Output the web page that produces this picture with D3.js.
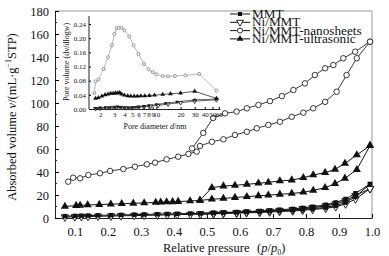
<!DOCTYPE html>
<html>
<head>
<script src="https://d3js.org/d3.v7.min.js"></script>
<style>
body { margin: 0; background: #fff; }
svg { font-family: "Liberation Serif", "Times New Roman", serif; }
</style>
</head>
<body>
<div id="chart"></div>
<script>
// main plot: relative pressure vs absorbed volume
var seriesNames = ["MMT", "Ni/MMT", "Ni/MMT-nanosheets", "Ni/MMT-ultrasonic"];

var mmtAdsP = [0.07,0.10,0.12,0.14,0.17,0.21,0.24,0.28,0.31,0.35,0.38,0.41,0.45,0.48,0.52,0.55,0.59,0.62,0.66,0.69,0.72,0.76,0.79,0.82,0.86,0.89,0.92,0.95,0.994];
var mmtAdsV = [1.6,1.8,2.0,2.1,2.3,2.5,2.7,2.9,3.1,3.3,3.5,3.7,3.9,4.1,4.4,4.7,5.0,5.3,5.6,6.0,6.4,6.9,7.5,8.2,9.2,10.8,13.5,18.5,29.5];
var mmtDesP = [0.994,0.95,0.92,0.89,0.86,0.82,0.79,0.76,0.72,0.69,0.66,0.62,0.59,0.55,0.52,0.48];
var mmtDesV = [29.5,21.5,16.5,13.5,11.5,9.8,8.8,7.9,7.2,6.6,6.1,5.6,5.2,4.8,4.5,4.1];

var niAdsP = [0.07,0.10,0.12,0.14,0.17,0.21,0.24,0.28,0.31,0.35,0.38,0.41,0.45,0.48,0.52,0.55,0.59,0.62,0.66,0.69,0.72,0.76,0.79,0.82,0.86,0.89,0.92,0.95,0.994];
var niAdsV = [0.8,1.0,1.2,1.3,1.5,1.7,1.9,2.1,2.3,2.5,2.7,2.9,3.1,3.3,3.6,3.9,4.2,4.5,4.8,5.2,5.6,6.1,6.7,7.4,8.4,9.8,12.2,16.5,25.5];
var niDesP = [0.994,0.95,0.92,0.89,0.86,0.82,0.79,0.76,0.72,0.69,0.66,0.62,0.59,0.55,0.52,0.48];
var niDesV = [25.5,19.5,15.0,12.3,10.5,9.0,8.0,7.2,6.5,6.0,5.5,5.0,4.6,4.2,3.9,3.4];

var nanoAdsP = [0.08,0.095,0.116,0.141,0.176,0.207,0.247,0.282,0.318,0.343,0.378,0.413,0.444,0.469,0.479,0.515,0.55,0.585,0.621,0.651,0.686,0.721,0.757,0.792,0.822,0.858,0.893,0.923,0.954,0.994];
var nanoAdsV = [31.6,35,34.5,37.4,38.9,40.9,42.6,44.6,46.7,48.1,51,53.3,55.7,57.7,62.6,66.3,68.4,72.2,75,78,80.9,83.7,88,91.6,95.4,101,109.8,124.3,138.9,153.3];
var nanoDesP = [0.994,0.949,0.913,0.883,0.858,0.827,0.797,0.762,0.727,0.691,0.656,0.621,0.59,0.555,0.519,0.489,0.455];
var nanoDesV = [153.3,144.6,138.9,133,130.2,124.3,117.1,111.3,106,101.7,98.3,95.4,92.5,91,87,74,60.5];

var ultAdsP = [0.07,0.104,0.116,0.139,0.174,0.209,0.242,0.277,0.31,0.345,0.36,0.378,0.396,0.413,0.449,0.479,0.515,0.55,0.585,0.621,0.656,0.686,0.721,0.757,0.792,0.822,0.858,0.888,0.918,0.954,0.994];
var ultAdsV = [10,10.8,11,11.3,11.7,12,12.4,12.8,13.1,13.5,13.7,13.9,14.1,14.3,14.8,15.3,16.3,17,17.8,18.6,19.3,19.9,20.6,21.3,22.4,24,26.3,29.8,34.5,42,63];
var ultDesP = [0.994,0.954,0.918,0.888,0.858,0.822,0.792,0.757,0.721,0.686,0.656,0.621,0.585,0.55,0.515,0.479];
var ultDesV = [63,54.8,47.5,42.3,39.4,37.4,35,33,32.2,31,30.2,29.3,28.4,27.8,26.4,15.3];

var xTicks = [0.1,0.2,0.3,0.4,0.5,0.6,0.7,0.8,0.9,1.0];
var yTicks = [0,20,40,60,80,100,120,140,160,180];

// inset: pore size distribution
var insetXTicks = [2,3,4,5,6,7,8,9,10,20,30,40,50,60];
var insetYTicks = [0,0.04,0.08,0.12,0.16,0.20,0.24];

var inMmtD = [1.75,2.0,2.3,2.6,3.0,3.3,3.6,4.0,4.5,5.0,5.5,6.0,7.0,8.0,10,13,18,30,56];
var inMmtV = [0.002,0.003,0.004,0.004,0.005,0.006,0.005,0.004,0.004,0.004,0.005,0.006,0.008,0.010,0.013,0.016,0.020,0.026,0.028];
var inNiD = [1.75,2.0,2.4,2.8,3.2,3.6,4.2,5.0,6.0,7.0,8.5,10.5,14,20,30,56];
var inNiV = [0.001,0.002,0.003,0.004,0.005,0.004,0.003,0.003,0.005,0.006,0.008,0.010,0.014,0.018,0.022,0.026];
var inNanoD = [1.69,1.75,1.9,2.2,2.5,2.8,3.0,3.2,3.4,3.7,4.0,4.6,5.2,6.0,7.0,8.0,9.0,10,12,14,17,23,34,56];
var inNanoV = [0.045,0.078,0.083,0.113,0.146,0.18,0.212,0.228,0.229,0.229,0.222,0.205,0.18,0.155,0.127,0.112,0.104,0.098,0.093,0.092,0.093,0.095,0.099,0.052];
var inUltD = [1.75,1.9,2.1,2.3,2.5,2.7,2.9,3.1,3.3,3.5,3.7,4.0,4.4,4.8,5.3,5.8,6.4,7.2,8.2,9.5,12,15,20,30,56];
var inUltV = [0.03,0.032,0.036,0.04,0.042,0.044,0.044,0.045,0.045,0.046,0.042,0.039,0.037,0.036,0.036,0.036,0.037,0.037,0.038,0.039,0.041,0.043,0.045,0.05,0.03];

var width = 389, height = 256;

var svg = d3.select("#chart").append("svg")
  .attr("width", width).attr("height", height);

var x = d3.scaleLinear().domain([0.04, 1.0]).range([55, 372]);
var y = d3.scaleLinear().domain([0, 180]).range([218, 11]);

// frame
svg.append("line").attr("x1", 55).attr("x2", 372).attr("y1", 11).attr("y2", 11).attr("stroke", "#999").attr("stroke-width", 1);
svg.append("line").attr("x1", 372).attr("x2", 372).attr("y1", 11).attr("y2", 218).attr("stroke", "#999").attr("stroke-width", 1);

var xAxis = svg.append("g").attr("transform", "translate(0,218)")
  .call(d3.axisBottom(x).tickValues(xTicks).tickFormat(d3.format(".1f")).tickSizeInner(-4).tickSizeOuter(0).tickPadding(9));
var yAxis = svg.append("g").attr("transform", "translate(55,0)")
  .call(d3.axisLeft(y).tickValues(yTicks).tickSizeInner(-4).tickSizeOuter(0).tickPadding(6));
[xAxis, yAxis].forEach(function (a) {
  a.select(".domain").attr("stroke", "#222");
  a.selectAll("text").attr("font-size", 12.5).attr("fill", "#111").attr("font-family", "Liberation Serif");
});
// minor ticks
svg.append("g").selectAll("line").data(d3.range(10, 180, 20)).enter().append("line")
  .attr("x1", 55).attr("x2", 57).attr("y1", function (d) { return y(d); }).attr("y2", function (d) { return y(d); })
  .attr("stroke", "#222");

// axis titles
var xt = svg.append("text").attr("x", 163).attr("y", 252).attr("font-size", 12.5).attr("fill", "#111");
xt.append("tspan").text("Relative pressure");
xt.append("tspan").attr("x", 257).text("(");
xt.append("tspan").attr("font-style", "italic").text("p");
xt.append("tspan").text("/");
xt.append("tspan").attr("font-style", "italic").text("p");
xt.append("tspan").attr("font-size", 8).attr("dy", 3).text("0");
xt.append("tspan").attr("dy", -3).text(")");

var yt = svg.append("text").attr("transform", "translate(16,117) rotate(-90)")
  .attr("text-anchor", "middle").attr("font-size", 12.5).attr("fill", "#111");
yt.append("tspan").text("Absorbed volume ");
yt.append("tspan").attr("font-style", "italic").text("v");
yt.append("tspan").text("/(mL\u00b7g");
yt.append("tspan").attr("font-size", 8).attr("dy", -5).text("\u22121");
yt.append("tspan").attr("dy", 5).text("STP)");

// marker drawing
function marker(g, kind, size, color) {
  if (kind === "square") {
    g.append("rect").attr("x", -size / 2).attr("y", -size / 2).attr("width", size).attr("height", size).attr("fill", color);
  } else if (kind === "down") {
    g.append("path").attr("d", d3.symbol().type(d3.symbolTriangle).size(size * size * 0.8)).attr("transform", "rotate(180)")
      .attr("fill", "#fff").attr("stroke", color).attr("stroke-width", 0.9);
  } else if (kind === "circle") {
    g.append("circle").attr("r", size / 2).attr("fill", "#fff").attr("stroke", color).attr("stroke-width", 0.9);
  } else {
    g.append("path").attr("d", d3.symbol().type(d3.symbolTriangle).size(size * size * 0.8)).attr("fill", color);
  }
}

function drawSeries(parent, xs, ys, sx, sy, kind, size, color, lw) {
  var pts = xs.map(function (v, i) { return [sx(v), sy(ys[i])]; });
  parent.append("path").attr("d", d3.line()(pts)).attr("fill", "none").attr("stroke", color).attr("stroke-width", lw);
  parent.append("g").selectAll("g").data(pts).enter().append("g")
    .attr("transform", function (d) { return "translate(" + d[0] + "," + d[1] + ")"; })
    .each(function () { marker(d3.select(this), kind, size, color); });
}

var plot = svg.append("g");
drawSeries(plot, niAdsP, niAdsV, x, y, "down", 5.5, "#111", 1);
drawSeries(plot, niDesP, niDesV, x, y, "down", 5.5, "#111", 1);
drawSeries(plot, mmtAdsP, mmtAdsV, x, y, "square", 4.5, "#111", 1);
drawSeries(plot, mmtDesP, mmtDesV, x, y, "square", 4.5, "#111", 1);
drawSeries(plot, ultAdsP, ultAdsV, x, y, "tri", 6, "#111", 1);
drawSeries(plot, ultDesP, ultDesV, x, y, "tri", 6, "#111", 1);
drawSeries(plot, nanoAdsP, nanoAdsV, x, y, "circle", 5.5, "#222", 0.9);
drawSeries(plot, nanoDesP, nanoDesV, x, y, "circle", 5.5, "#222", 0.9);

// legend (tightly packed rows, as in the original)
var kinds = ["square", "down", "circle", "tri"];
var legend = svg.append("g").attr("transform", "translate(230,14)");
seriesNames.forEach(function (name, i) {
  var row = legend.append("g").attr("transform", "translate(0," + (i * 8.3) + ")");
  row.append("line").attr("x1", 0).attr("x2", 20).attr("stroke", "#111").attr("stroke-width", 1);
  var m = row.append("g").attr("transform", "translate(10,0)");
  marker(m, kinds[i], kinds[i] === "square" ? 4 : 5, "#111");
  row.append("text").attr("transform", "translate(22,4) scale(1.15,1)")
    .attr("font-size", 11.5).attr("fill", "#111").text(name);
});

// inset
var ix = d3.scaleLog().domain([1.45, 62]).range([89, 220]);
var iy = d3.scaleLinear().domain([0, 0.24]).range([109, 24]);
var inset = svg.append("g");
var ixAxis = inset.append("g").attr("transform", "translate(0,109)")
  .call(d3.axisBottom(ix).tickValues(insetXTicks).tickFormat(d3.format("d")).tickSizeInner(-2).tickSizeOuter(0).tickPadding(3));
var iyAxis = inset.append("g").attr("transform", "translate(89,0)")
  .call(d3.axisLeft(iy).tickValues(insetYTicks).tickFormat(d3.format(".2f")).tickSizeInner(-2).tickSizeOuter(0).tickPadding(3));
[ixAxis, iyAxis].forEach(function (a) {
  a.select(".domain").attr("stroke", "#222");
  a.selectAll("text").attr("font-size", 7).attr("fill", "#111").attr("font-family", "Liberation Serif");
});
iyAxis.select(".domain").attr("d", "M0,16V109");

drawSeries(inset, inNiD, inNiV, ix, iy, "down", 3, "#222", 0.7);
drawSeries(inset, inMmtD, inMmtV, ix, iy, "square", 2.5, "#222", 0.7);
drawSeries(inset, inUltD, inUltV, ix, iy, "tri", 3.5, "#111", 0.7);
drawSeries(inset, inNanoD, inNanoV, ix, iy, "circle", 3, "#888", 0.6);

inset.append("text").attr("x", 155).attr("y", 129).attr("text-anchor", "middle").attr("font-size", 8).attr("fill", "#111")
  .html('Pore diameter <tspan font-style="italic">d</tspan>/nm');
inset.append("text").attr("transform", "translate(69,62) rotate(-90)").attr("text-anchor", "middle")
  .attr("font-size", 8).attr("fill", "#111").text("Pore volume (dv/dlogw)");
</script>
</body>
</html>
